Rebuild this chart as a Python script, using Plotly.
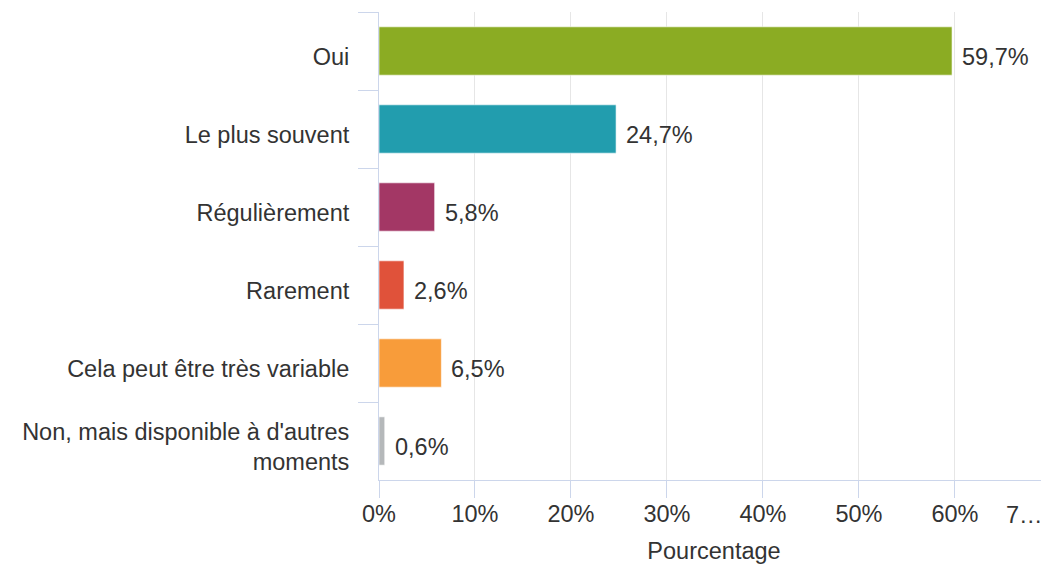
import plotly.graph_objects as go

categories = ["Oui", "Le plus souvent", "Régulièrement", "Rarement",
              "Cela peut être très variable", "Non, mais disponible à d'autres<br>moments"]
values = [59.7, 24.7, 5.8, 2.6, 6.5, 0.6]
labels = ["59,7%", "24,7%", "5,8%", "2,6%", "6,5%", "0,6%"]
colors = ["#8BAC23", "#229DAE", "#A33765", "#E0523A", "#F89C3A", "#B5B8BA"]
tick_vals = [0, 10, 20, 30, 40, 50, 60]
tick_text = ["0%", "10%", "20%", "30%", "40%", "50%", "60%"]

FS = 23.5
FONT = "Liberation Sans, Arial"

fig = go.Figure(go.Bar(
    x=values, y=categories, orientation="h",
    marker=dict(color=colors, line=dict(color="rgba(255,255,255,0.6)", width=1)),
    width=0.62, hoverinfo="x+y",
))

annotations = [
    dict(x=v, y=c, xref="x", yref="y", text=t, showarrow=False,
         xanchor="left", yanchor="middle", xshift=8, yshift=-6,
         font=dict(size=FS, color="#333333", family=FONT))
    for v, c, t in zip(values, categories, labels)
]
annotations.append(dict(text="7…", xref="paper", yref="paper", x=1, y=0,
                        xanchor="right", yanchor="middle", yshift=-35, xshift=-4,
                        showarrow=False, font=dict(size=FS, color="#333333", family=FONT)))

fig.update_layout(
    width=1041, height=558,
    margin=dict(l=371, r=0, t=4, b=86),
    paper_bgcolor="white", plot_bgcolor="white",
    font=dict(family=FONT, size=FS, color="#333333"),
    showlegend=False,
    xaxis=dict(range=[0, 69.8], tickvals=tick_vals, ticktext=tick_text,
               showgrid=True, gridcolor="#e6e6e6", gridwidth=1,
               zeroline=False, showline=True, linecolor="#ccd6eb", linewidth=1,
               ticks="outside", ticklen=17, tickcolor="#ccd6eb",
               tickfont=dict(size=FS, color="#333333"), ticklabelstandoff=-4,
               title=dict(text="Pourcentage", font=dict(size=FS, color="#333333"), standoff=16)),
    yaxis=dict(autorange="reversed", showline=True, linecolor="#ccd6eb", linewidth=1,
               ticks="outside", ticklen=20, tickcolor="#ccd6eb", tickson="boundaries",
               showgrid=False, tickfont=dict(size=FS, color="#333333"),
               ticklabelstandoff=24, ticklabelshift=-6),
    annotations=annotations,
    bargap=0.38,
)

fig.write_html("out.html")
